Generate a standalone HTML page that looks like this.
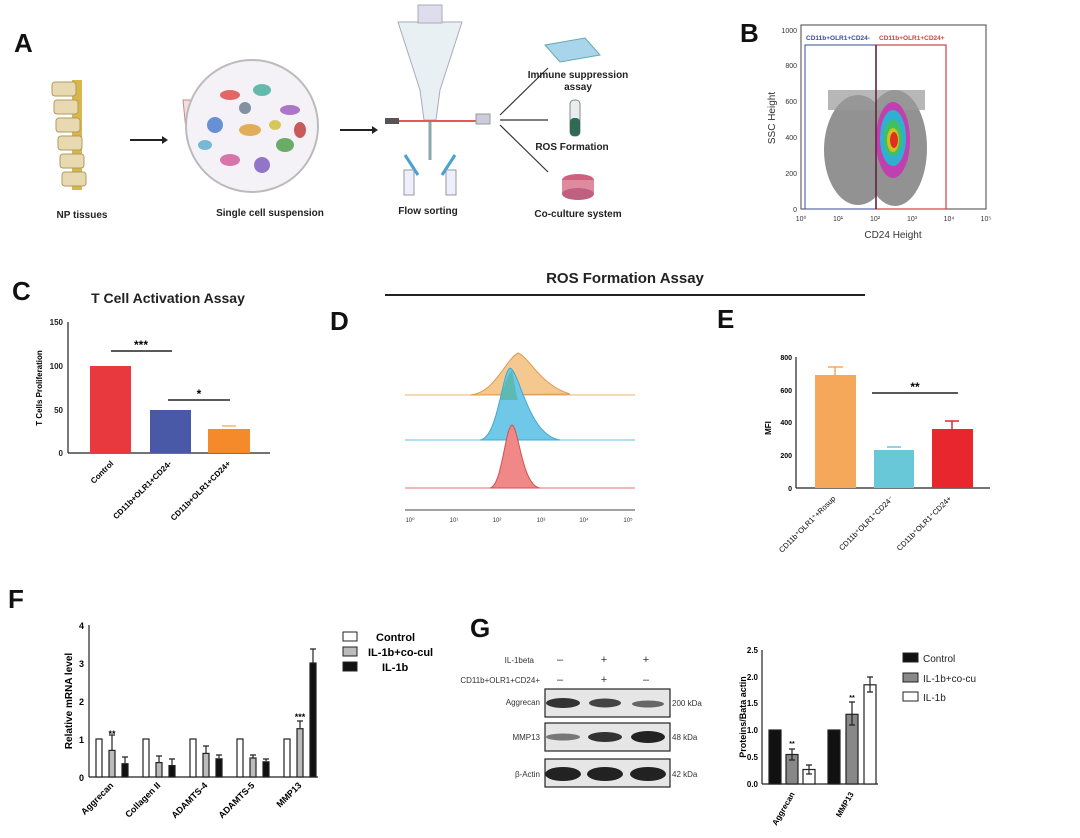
<!DOCTYPE html>
<html><head><meta charset="utf-8"><style>
body{margin:0;background:#fff}
svg{display:block;font-family:"Liberation Sans",Arial,sans-serif}
</style></head><body>
<svg width="1080" height="838" viewBox="0 0 1080 838" xmlns="http://www.w3.org/2000/svg">
<rect width="1080" height="838" fill="#fff"/>
<g font-weight="bold" font-size="26" fill="#111">
<text x="14" y="52">A</text><text x="740" y="42">B</text><text x="12" y="300">C</text>
<text x="330" y="330">D</text><text x="717" y="328">E</text><text x="8" y="608">F</text><text x="470" y="637">G</text>
</g>
<!-- Panel A -->
<g>
 <rect x="72" y="80" width="10" height="110" fill="#d9b54a"/>
 <g fill="#e8d9b0" stroke="#b09a60" stroke-width="1">
  <rect x="52" y="82" width="24" height="14" rx="3"/><rect x="54" y="100" width="24" height="14" rx="3"/>
  <rect x="56" y="118" width="24" height="14" rx="3"/><rect x="58" y="136" width="24" height="14" rx="3"/>
  <rect x="60" y="154" width="24" height="14" rx="3"/><rect x="62" y="172" width="24" height="14" rx="3"/>
 </g>
 <line x1="130" y1="140" x2="162" y2="140" stroke="#222" stroke-width="2"/><path d="M162 136 L168 140 L162 144Z" fill="#222"/>
 <path d="M183 100 L199 100 L195 140 L191 148 L187 140Z" fill="#f3dede" stroke="#c88" stroke-width="1"/>
 <circle cx="252" cy="126" r="66" fill="#f4f2f6" stroke="#bbb" stroke-width="2"/>
 <g opacity="0.85">
  <ellipse cx="230" cy="95" rx="10" ry="5" fill="#e05050"/><ellipse cx="262" cy="90" rx="9" ry="6" fill="#4ab0a0"/>
  <ellipse cx="290" cy="110" rx="10" ry="5" fill="#a060c0"/><ellipse cx="215" cy="125" rx="8" ry="8" fill="#5080d0"/>
  <ellipse cx="250" cy="130" rx="11" ry="6" fill="#e0a040"/><ellipse cx="285" cy="145" rx="9" ry="7" fill="#50a050"/>
  <ellipse cx="230" cy="160" rx="10" ry="6" fill="#d060a0"/><ellipse cx="262" cy="165" rx="8" ry="8" fill="#8060c0"/>
  <ellipse cx="205" cy="145" rx="7" ry="5" fill="#60b0d0"/><ellipse cx="300" cy="130" rx="6" ry="8" fill="#c04040"/>
  <ellipse cx="245" cy="108" rx="6" ry="6" fill="#708090"/><ellipse cx="275" cy="125" rx="6" ry="5" fill="#d0c040"/>
 </g>
 <line x1="340" y1="130" x2="372" y2="130" stroke="#222" stroke-width="2"/><path d="M372 126 L378 130 L372 134Z" fill="#222"/>
 <path d="M398 22 L462 22 L440 90 L436 120 L424 120 L420 90Z" fill="#e8f0f4" stroke="#aab" stroke-width="1"/>
 <rect x="418" y="5" width="24" height="18" fill="#dde" stroke="#aab"/>
 <line x1="430" y1="120" x2="430" y2="160" stroke="#8aa" stroke-width="3"/>
 <line x1="395" y1="121" x2="480" y2="121" stroke="#e05a5a" stroke-width="2"/>
 <rect x="385" y="118" width="14" height="6" fill="#555"/><rect x="476" y="114" width="14" height="10" fill="#ccd" stroke="#999"/>
 <line x1="405" y1="155" x2="418" y2="175" stroke="#4aa0d0" stroke-width="3"/><line x1="455" y1="155" x2="442" y2="175" stroke="#4aa0d0" stroke-width="3"/>
 <rect x="404" y="170" width="10" height="25" fill="#eef" stroke="#999"/><rect x="446" y="170" width="10" height="25" fill="#eef" stroke="#999"/>
 <g stroke="#333" stroke-width="1.2">
  <line x1="500" y1="115" x2="548" y2="68"/><line x1="500" y1="120" x2="548" y2="120"/><line x1="500" y1="125" x2="548" y2="172"/>
 </g>
 <path d="M545 45 L585 38 L600 55 L560 62Z" fill="#a8d4ec" stroke="#6aa" stroke-width="1"/>
 <rect x="570" y="100" width="10" height="36" rx="4" fill="#e8eef0" stroke="#888"/><rect x="570" y="118" width="10" height="18" rx="4" fill="#2f6a55"/>
 <ellipse cx="578" cy="180" rx="16" ry="6" fill="#d06080"/><rect x="562" y="180" width="32" height="14" fill="#e08aa0"/><ellipse cx="578" cy="194" rx="16" ry="6" fill="#c06080"/>
 <g font-size="10" font-weight="bold" fill="#222" text-anchor="middle">
  <text x="82" y="218">NP tissues</text><text x="270" y="216">Single cell suspension</text><text x="428" y="214">Flow sorting</text>
  <text x="578" y="78">Immune suppression</text><text x="578" y="90">assay</text>
  <text x="572" y="150">ROS Formation</text><text x="578" y="217">Co-culture system</text>
 </g>
</g>
<!-- Panel B -->
<g>
 <rect x="801" y="25" width="185" height="184" fill="none" stroke="#444" stroke-width="1"/>
 <g fill="#808080" opacity="0.85">
  <ellipse cx="858" cy="150" rx="34" ry="55"/><ellipse cx="895" cy="148" rx="32" ry="58"/>
  <path d="M828 110 L828 90 L925 90 L925 110 Z" fill="#888" opacity="0.7"/>
 </g>
 <ellipse cx="893" cy="140" rx="17" ry="38" fill="#c040b0"/>
 <ellipse cx="893" cy="138" rx="13" ry="28" fill="#30b0d0"/>
 <ellipse cx="893" cy="138" rx="9" ry="18" fill="#40c060"/>
 <ellipse cx="893" cy="140" rx="6" ry="12" fill="#d0c020"/>
 <ellipse cx="894" cy="140" rx="4" ry="8" fill="#e03020"/>
 <rect x="805" y="45" width="71" height="164" fill="none" stroke="#3a4aa0" stroke-width="1"/>
 <rect x="876" y="45" width="70" height="164" fill="none" stroke="#d04040" stroke-width="1.2"/>
 <line x1="876" y1="45" x2="876" y2="209" stroke="#602040" stroke-width="1.5"/>
 <text x="806" y="40" font-size="6.5" font-weight="bold" fill="#3a4aa0">CD11b+OLR1+CD24-</text>
 <text x="879" y="40" font-size="6.5" font-weight="bold" fill="#d04040">CD11b+OLR1+CD24+</text>
 <g font-size="7" fill="#333" text-anchor="end">
  <text x="797" y="33">1000</text><text x="797" y="68">800</text><text x="797" y="104">600</text><text x="797" y="140">400</text><text x="797" y="176">200</text><text x="797" y="212">0</text>
 </g>
 <g font-size="7" fill="#333" text-anchor="middle">
  <text x="801" y="221">10⁰</text><text x="838" y="221">10¹</text><text x="875" y="221">10²</text><text x="912" y="221">10³</text><text x="949" y="221">10⁴</text><text x="986" y="221">10⁵</text>
 </g>
 <text x="893" y="238" font-size="10" fill="#333" text-anchor="middle">CD24 Height</text>
 <text transform="translate(775,118) rotate(-90)" font-size="10" fill="#333" text-anchor="middle">SSC Height</text>
</g>
<!-- Panel C -->
<g>
 <text x="168" y="303" font-size="14" font-weight="bold" text-anchor="middle" fill="#222">T Cell Activation Assay</text>
 <line x1="68" y1="322" x2="68" y2="453" stroke="#222" stroke-width="1.2"/><line x1="68" y1="453" x2="270" y2="453" stroke="#222" stroke-width="1.2"/>
 <g font-size="8" font-weight="bold" text-anchor="end" fill="#222"><text x="63" y="325">150</text><text x="63" y="369">100</text><text x="63" y="413">50</text><text x="63" y="456">0</text></g>
 <rect x="90" y="366" width="41" height="87" fill="#e8393f"/>
 <rect x="150" y="410" width="41" height="43" fill="#4a58a8"/>
 <rect x="208" y="429" width="42" height="24" fill="#f58a2a"/>
 <line x1="222" y1="426" x2="236" y2="426" stroke="#f58a2a"/>
 <line x1="111" y1="351" x2="172" y2="351" stroke="#222" stroke-width="1.5"/><text x="141" y="349" font-size="12" text-anchor="middle" font-weight="bold">***</text>
 <line x1="168" y1="400" x2="230" y2="400" stroke="#222" stroke-width="1.5"/><text x="199" y="398" font-size="12" text-anchor="middle" font-weight="bold">*</text>
 <text transform="translate(114,464) rotate(-45)" font-size="8" font-weight="bold" text-anchor="end">Control</text>
 <text transform="translate(172,464) rotate(-45)" font-size="8" font-weight="bold" text-anchor="end">CD11b+OLR1+CD24-</text>
 <text transform="translate(231,464) rotate(-45)" font-size="8" font-weight="bold" text-anchor="end">CD11b+OLR1+CD24+</text>
 <text transform="translate(42,388) rotate(-90)" font-size="8" font-weight="bold" text-anchor="middle">T Cells Proliferation</text>
</g>
<!-- ROS title -->
<text x="625" y="283" font-size="15" font-weight="bold" text-anchor="middle" fill="#222">ROS  Formation Assay</text>
<line x1="385" y1="295" x2="865" y2="295" stroke="#222" stroke-width="2"/>
<!-- Panel D -->
<g>
 <line x1="405" y1="395" x2="635" y2="395" stroke="#e8b070" stroke-width="1"/>
 <path d="M470 395 C495 393 505 360 518 353 C530 358 540 385 570 394 L470 395Z" fill="#f5c890" stroke="#e09a50"/>
 <line x1="405" y1="440" x2="635" y2="440" stroke="#60c0e0" stroke-width="1"/>
 <path d="M480 440 C498 438 502 372 510 368 C520 372 528 435 560 440Z" fill="#70c8e8" stroke="#40a8d0"/>
 <path d="M500 400 C505 380 510 372 512 370 C514 380 516 395 518 400Z" fill="#50b090" opacity="0.6"/>
 <line x1="405" y1="488" x2="635" y2="488" stroke="#e07070" stroke-width="1"/>
 <path d="M490 488 C502 486 505 428 512 425 C519 428 522 486 540 488Z" fill="#f08888" stroke="#d05050"/>
 <line x1="405" y1="510" x2="635" y2="510" stroke="#444"/>
 <g font-size="6" fill="#333" text-anchor="middle">
  <text x="410" y="522">10⁰</text><text x="454" y="522">10¹</text><text x="497" y="522">10²</text><text x="541" y="522">10³</text><text x="584" y="522">10⁴</text><text x="628" y="522">10⁵</text>
 </g>
</g>
<!-- Panel E -->
<g>
 <line x1="796" y1="357" x2="796" y2="488" stroke="#222" stroke-width="1.2"/><line x1="796" y1="488" x2="990" y2="488" stroke="#222" stroke-width="1.2"/>
 <g font-size="7" font-weight="bold" text-anchor="end"><text x="792" y="360">800</text><text x="792" y="393">600</text><text x="792" y="425">400</text><text x="792" y="458">200</text><text x="792" y="491">0</text></g>
 <rect x="815" y="375" width="41" height="113" fill="#f5a85a"/><line x1="835" y1="375" x2="835" y2="367" stroke="#f5a85a" stroke-width="1.5"/><line x1="828" y1="367" x2="843" y2="367" stroke="#f5a85a" stroke-width="1.5"/>
 <rect x="874" y="450" width="40" height="38" fill="#68c8d8"/><line x1="887" y1="447" x2="901" y2="447" stroke="#68c8d8" stroke-width="1.5"/>
 <rect x="932" y="429" width="41" height="59" fill="#e8262e"/><line x1="952" y1="429" x2="952" y2="421" stroke="#e8262e" stroke-width="1.5"/><line x1="945" y1="421" x2="959" y2="421" stroke="#e8262e" stroke-width="1.5"/>
 <line x1="872" y1="393" x2="958" y2="393" stroke="#222" stroke-width="1.5"/><text x="915" y="391" font-size="12" font-weight="bold" text-anchor="middle">**</text>
 <text transform="translate(771,428) rotate(-90)" font-size="8" font-weight="bold" text-anchor="middle">MFI</text>
 <g font-size="7.5" text-anchor="end">
  <text transform="translate(836,499) rotate(-45)">CD11b⁺OLR1⁺+Rosup</text>
  <text transform="translate(894,499) rotate(-45)">CD11b⁺OLR1⁺CD24⁻</text>
  <text transform="translate(952,499) rotate(-45)">CD11b⁺OLR1⁺CD24+</text>
 </g>
</g>
<!-- Panel F -->
<g>
 <line x1="89" y1="625" x2="89" y2="777" stroke="#222" stroke-width="1.2"/><line x1="89" y1="777" x2="318" y2="777" stroke="#222" stroke-width="1.2"/>
 <g font-size="9" font-weight="bold" text-anchor="end"><text x="84" y="629">4</text><text x="84" y="667">3</text><text x="84" y="705">2</text><text x="84" y="743">1</text><text x="84" y="781">0</text></g>
 <g stroke="#222" stroke-width="1.2">
  <rect x="96" y="739" width="6" height="38" fill="#fff"/><rect x="109" y="750.4" width="6" height="26.6" fill="#bbb"/><rect x="122" y="763.7" width="6" height="13.3" fill="#111"/>
  <rect x="143" y="739" width="6" height="38" fill="#fff"/><rect x="156" y="762.6" width="6" height="14.4" fill="#bbb"/><rect x="169" y="765.6" width="6" height="11.4" fill="#111"/>
  <rect x="190" y="739" width="6" height="38" fill="#fff"/><rect x="203" y="753.4" width="6" height="23.6" fill="#bbb"/><rect x="216" y="758.8" width="6" height="18.2" fill="#111"/>
  <rect x="237" y="739" width="6" height="38" fill="#fff"/><rect x="250" y="758" width="6" height="19" fill="#bbb"/><rect x="263" y="761.8" width="6" height="15.2" fill="#111"/>
  <rect x="284" y="739" width="6" height="38" fill="#fff"/><rect x="297" y="728.7" width="6" height="48.3" fill="#bbb"/><rect x="310" y="663" width="6" height="114" fill="#111"/>
  <path d="M112 750 V735 M109 735 H115 M125 763 V757 M122 757 H128 M159 762 V756 M156 756 H162 M172 765 V759 M169 759 H175 M206 753 V746 M203 746 H209 M219 758 V755 M216 755 H222 M253 758 V755 M250 755 H256 M266 761 V759 M263 759 H269 M300 728 V721 M297 721 H303 M313 663 V649 M310 649 H316"/>
 </g>
 <text x="112" y="737" font-size="9" font-weight="bold" text-anchor="middle">**</text>
 <text x="300" y="720" font-size="9" font-weight="bold" text-anchor="middle">***</text>
 <text transform="translate(72,701) rotate(-90)" font-size="10" font-weight="bold" text-anchor="middle">Relative mRNA level</text>
 <g font-size="9" font-weight="bold" text-anchor="end">
  <text transform="translate(114,786) rotate(-45)">Aggrecan</text><text transform="translate(161,786) rotate(-45)">Collagen II</text>
  <text transform="translate(208,786) rotate(-45)">ADAMTS-4</text><text transform="translate(255,786) rotate(-45)">ADAMTS-5</text><text transform="translate(302,786) rotate(-45)">MMP13</text>
 </g>
 <g stroke="#222" stroke-width="1"><rect x="343" y="632" width="14" height="9" fill="#fff"/><rect x="343" y="647" width="14" height="9" fill="#bbb"/><rect x="343" y="662" width="14" height="9" fill="#111"/></g>
 <g font-size="11" font-weight="bold"><text x="376" y="641">Control</text><text x="368" y="656">IL-1b+co-cul</text><text x="382" y="671">IL-1b</text></g>
</g>
<!-- Panel G western -->
<g font-size="8" fill="#333">
 <text x="534" y="663" text-anchor="end">IL-1beta</text><text x="540" y="683" text-anchor="end">CD11b+OLR1+CD24+</text>
 <g font-size="11" text-anchor="middle"><text x="560" y="663">–</text><text x="604" y="663">+</text><text x="646" y="663">+</text><text x="560" y="683">–</text><text x="604" y="683">+</text><text x="646" y="683">–</text></g>
 <text x="540" y="705" text-anchor="end">Aggrecan</text><text x="540" y="740" text-anchor="end">MMP13</text><text x="540" y="777" text-anchor="end">β-Actin</text>
 <text x="672" y="706">200 kDa</text><text x="672" y="740">48 kDa</text><text x="672" y="777">42 kDa</text>
</g>
<g stroke="#222" stroke-width="1.2">
 <rect x="545" y="689" width="125" height="28" fill="#e6e6e6"/><rect x="545" y="723" width="125" height="28" fill="#e6e6e6"/><rect x="545" y="759" width="125" height="28" fill="#e6e6e6"/>
</g>
<g stroke="none">
 <ellipse cx="563" cy="703" rx="17" ry="5" fill="#333"/><ellipse cx="605" cy="703" rx="16" ry="4.5" fill="#444"/><ellipse cx="648" cy="704" rx="16" ry="3.5" fill="#666"/>
 <ellipse cx="563" cy="737" rx="17" ry="3.5" fill="#777"/><ellipse cx="605" cy="737" rx="17" ry="5" fill="#333"/><ellipse cx="648" cy="737" rx="17" ry="6" fill="#222"/>
 <ellipse cx="563" cy="774" rx="18" ry="7" fill="#222"/><ellipse cx="605" cy="774" rx="18" ry="7" fill="#222"/><ellipse cx="648" cy="774" rx="18" ry="7" fill="#222"/>
</g>
<!-- Panel G bars -->
<g>
 <line x1="762" y1="650" x2="762" y2="784" stroke="#222" stroke-width="1.2"/><line x1="762" y1="784" x2="878" y2="784" stroke="#222" stroke-width="1.2"/>
 <g font-size="8" font-weight="bold" text-anchor="end"><text x="758" y="653">2.5</text><text x="758" y="680">2.0</text><text x="758" y="706">1.5</text><text x="758" y="733">1.0</text><text x="758" y="760">0.5</text><text x="758" y="787">0.0</text></g>
 <g stroke="#222" stroke-width="1.2">
  <rect x="769" y="730" width="12" height="54" fill="#111"/><rect x="786" y="754.5" width="12" height="29.5" fill="#888"/><rect x="803" y="769.5" width="12" height="14.5" fill="#fff"/>
  <rect x="828" y="730" width="12" height="54" fill="#111"/><rect x="846" y="714.3" width="12" height="69.7" fill="#888"/><rect x="864" y="684.8" width="12" height="99.2" fill="#fff"/>
  <path d="M792 749 V760 M789 749 H795 M789 760 H795 M809 765 V774 M806 765 H812 M806 774 H812 M852 702 V725 M849 702 H855 M849 725 H855 M870 677 V692 M867 677 H873 M867 692 H873"/>
 </g>
 <text x="792" y="746" font-size="7" font-weight="bold" text-anchor="middle">**</text><text x="852" y="700" font-size="7" font-weight="bold" text-anchor="middle">**</text>
 <text transform="translate(746,717) rotate(-90)" font-size="9" font-weight="bold" text-anchor="middle">Proteins/Bata actin</text>
 <g font-size="8" font-weight="bold" text-anchor="end"><text transform="translate(795,794) rotate(-60)">Aggrecan</text><text transform="translate(854,794) rotate(-60)">MMP13</text></g>
 <g stroke="#222" stroke-width="1"><rect x="903" y="653" width="15" height="9" fill="#111"/><rect x="903" y="673" width="15" height="9" fill="#888"/><rect x="903" y="692" width="15" height="9" fill="#fff"/></g>
 <g font-size="10" fill="#222"><text x="923" y="662">Control</text><text x="923" y="682">IL-1b+co-cu</text><text x="923" y="701">IL-1b</text></g>
</g>
</svg>
</body></html>
